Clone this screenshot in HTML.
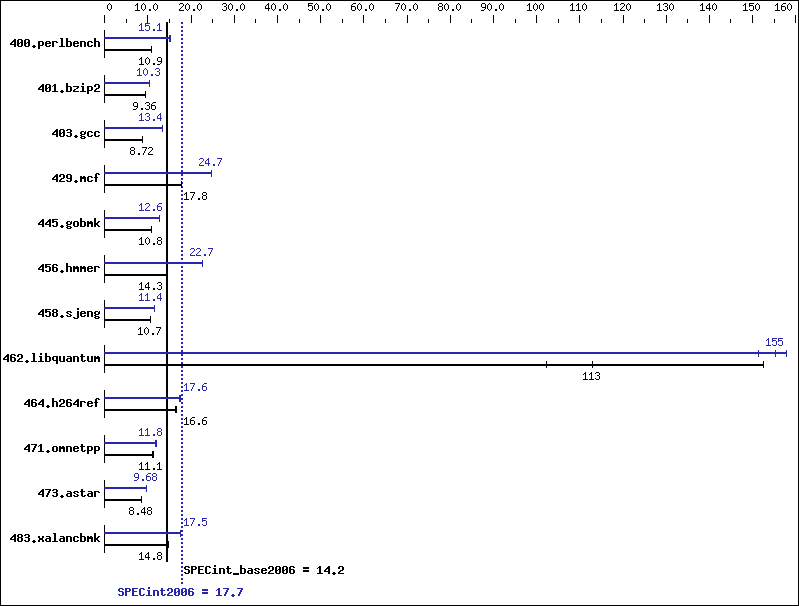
<!DOCTYPE html>
<html><head><meta charset="utf-8"><title>SPECint2006 chart</title>
<style>html,body{margin:0;padding:0;background:#fff;overflow:hidden;font-family:"Liberation Mono",monospace}svg{display:block}</style>
</head><body>
<svg width="799" height="606" viewBox="0 0 799 606" shape-rendering="crispEdges">
<defs><path id="s48" d="M2 3h1v1h-1zM1 4h1v1h-1zM3 4h1v1h-1zM0 5h1v1h-1zM4 5h1v1h-1zM0 6h1v1h-1zM4 6h1v1h-1zM0 7h1v1h-1zM4 7h1v1h-1zM0 8h1v1h-1zM4 8h1v1h-1zM1 9h1v1h-1zM3 9h1v1h-1zM2 10h1v1h-1z"/><path id="s49" d="M2 3h1v1h-1zM1 4h2v1h-2zM0 5h1v1h-1zM2 5h1v1h-1zM2 6h1v1h-1zM2 7h1v1h-1zM2 8h1v1h-1zM2 9h1v1h-1zM0 10h5v1h-5z"/><path id="s46" d="M2 9h2v1h-2zM2 10h2v1h-2z"/><path id="s50" d="M1 3h3v1h-3zM0 4h1v1h-1zM4 4h1v1h-1zM4 5h1v1h-1zM3 6h1v1h-1zM2 7h1v1h-1zM1 8h1v1h-1zM0 9h1v1h-1zM0 10h5v1h-5z"/><path id="s51" d="M1 3h3v1h-3zM0 4h1v1h-1zM4 4h1v1h-1zM4 5h1v1h-1zM2 6h2v1h-2zM4 7h1v1h-1zM4 8h1v1h-1zM0 9h1v1h-1zM4 9h1v1h-1zM1 10h3v1h-3z"/><path id="s52" d="M3 3h1v1h-1zM2 4h2v1h-2zM1 5h1v1h-1zM3 5h1v1h-1zM0 6h1v1h-1zM3 6h1v1h-1zM0 7h1v1h-1zM3 7h1v1h-1zM0 8h5v1h-5zM3 9h1v1h-1zM3 10h1v1h-1z"/><path id="s53" d="M0 3h5v1h-5zM0 4h1v1h-1zM0 5h4v1h-4zM0 6h1v1h-1zM4 6h1v1h-1zM4 7h1v1h-1zM4 8h1v1h-1zM0 9h1v1h-1zM4 9h1v1h-1zM1 10h3v1h-3z"/><path id="s54" d="M2 3h3v1h-3zM1 4h1v1h-1zM0 5h1v1h-1zM0 6h4v1h-4zM0 7h1v1h-1zM4 7h1v1h-1zM0 8h1v1h-1zM4 8h1v1h-1zM0 9h1v1h-1zM4 9h1v1h-1zM1 10h3v1h-3z"/><path id="s55" d="M0 3h5v1h-5zM4 4h1v1h-1zM3 5h1v1h-1zM3 6h1v1h-1zM2 7h1v1h-1zM2 8h1v1h-1zM1 9h1v1h-1zM1 10h1v1h-1z"/><path id="s56" d="M1 3h3v1h-3zM0 4h1v1h-1zM4 4h1v1h-1zM0 5h1v1h-1zM4 5h1v1h-1zM1 6h3v1h-3zM0 7h1v1h-1zM4 7h1v1h-1zM0 8h1v1h-1zM4 8h1v1h-1zM0 9h1v1h-1zM4 9h1v1h-1zM1 10h3v1h-3z"/><path id="s57" d="M1 3h3v1h-3zM0 4h1v1h-1zM4 4h1v1h-1zM0 5h1v1h-1zM4 5h1v1h-1zM0 6h1v1h-1zM4 6h1v1h-1zM1 7h4v1h-4zM4 8h1v1h-1zM3 9h1v1h-1zM0 10h3v1h-3z"/><path id="b52" d="M4 3h2v1h-2zM3 4h3v1h-3zM2 5h4v1h-4zM1 6h2v1h-2zM4 6h2v1h-2zM0 7h2v1h-2zM4 7h2v1h-2zM0 8h6v1h-6zM4 9h2v1h-2zM4 10h2v1h-2z"/><path id="b48" d="M1 3h4v1h-4zM0 4h2v1h-2zM4 4h2v1h-2zM0 5h2v1h-2zM4 5h2v1h-2zM0 6h2v1h-2zM3 6h3v1h-3zM0 7h3v1h-3zM4 7h2v1h-2zM0 8h2v1h-2zM4 8h2v1h-2zM0 9h2v1h-2zM4 9h2v1h-2zM1 10h4v1h-4z"/><path id="b46" d="M2 9h2v1h-2zM1 10h4v1h-4zM2 11h2v1h-2z"/><path id="b112" d="M0 5h5v1h-5zM0 6h2v1h-2zM4 6h2v1h-2zM0 7h2v1h-2zM4 7h2v1h-2zM0 8h2v1h-2zM4 8h2v1h-2zM0 9h5v1h-5zM0 10h2v1h-2zM0 11h2v1h-2zM0 12h2v1h-2z"/><path id="b101" d="M1 5h4v1h-4zM0 6h2v1h-2zM4 6h2v1h-2zM0 7h6v1h-6zM0 8h2v1h-2zM0 9h2v1h-2zM4 9h2v1h-2zM1 10h4v1h-4z"/><path id="b114" d="M0 5h5v1h-5zM0 6h2v1h-2zM4 6h2v1h-2zM0 7h2v1h-2zM0 8h2v1h-2zM0 9h2v1h-2zM0 10h2v1h-2z"/><path id="b108" d="M1 2h3v1h-3zM2 3h2v1h-2zM2 4h2v1h-2zM2 5h2v1h-2zM2 6h2v1h-2zM2 7h2v1h-2zM2 8h2v1h-2zM2 9h2v1h-2zM0 10h6v1h-6z"/><path id="b98" d="M0 2h2v1h-2zM0 3h2v1h-2zM0 4h2v1h-2zM0 5h5v1h-5zM0 6h2v1h-2zM4 6h2v1h-2zM0 7h2v1h-2zM4 7h2v1h-2zM0 8h2v1h-2zM4 8h2v1h-2zM0 9h2v1h-2zM4 9h2v1h-2zM0 10h5v1h-5z"/><path id="b110" d="M0 5h5v1h-5zM0 6h2v1h-2zM4 6h2v1h-2zM0 7h2v1h-2zM4 7h2v1h-2zM0 8h2v1h-2zM4 8h2v1h-2zM0 9h2v1h-2zM4 9h2v1h-2zM0 10h2v1h-2zM4 10h2v1h-2z"/><path id="b99" d="M1 5h4v1h-4zM0 6h2v1h-2zM4 6h2v1h-2zM0 7h2v1h-2zM0 8h2v1h-2zM0 9h2v1h-2zM4 9h2v1h-2zM1 10h4v1h-4z"/><path id="b104" d="M0 2h2v1h-2zM0 3h2v1h-2zM0 4h2v1h-2zM0 5h5v1h-5zM0 6h2v1h-2zM4 6h2v1h-2zM0 7h2v1h-2zM4 7h2v1h-2zM0 8h2v1h-2zM4 8h2v1h-2zM0 9h2v1h-2zM4 9h2v1h-2zM0 10h2v1h-2zM4 10h2v1h-2z"/><path id="b49" d="M2 3h2v1h-2zM1 4h3v1h-3zM0 5h1v1h-1zM2 5h2v1h-2zM2 6h2v1h-2zM2 7h2v1h-2zM2 8h2v1h-2zM2 9h2v1h-2zM0 10h6v1h-6z"/><path id="b122" d="M0 5h6v1h-6zM4 6h2v1h-2zM3 7h2v1h-2zM1 8h2v1h-2zM0 9h2v1h-2zM0 10h6v1h-6z"/><path id="b105" d="M2 2h2v1h-2zM2 3h2v1h-2zM1 5h3v1h-3zM2 6h2v1h-2zM2 7h2v1h-2zM2 8h2v1h-2zM2 9h2v1h-2zM0 10h6v1h-6z"/><path id="b50" d="M1 3h4v1h-4zM0 4h2v1h-2zM4 4h2v1h-2zM0 5h2v1h-2zM4 5h2v1h-2zM4 6h2v1h-2zM2 7h3v1h-3zM1 8h2v1h-2zM0 9h2v1h-2zM0 10h6v1h-6z"/><path id="b51" d="M1 3h4v1h-4zM0 4h2v1h-2zM4 4h2v1h-2zM4 5h2v1h-2zM1 6h4v1h-4zM4 7h2v1h-2zM4 8h2v1h-2zM0 9h2v1h-2zM4 9h2v1h-2zM1 10h4v1h-4z"/><path id="b103" d="M1 5h3v1h-3zM5 5h1v1h-1zM0 6h2v1h-2zM4 6h2v1h-2zM0 7h2v1h-2zM4 7h2v1h-2zM1 8h4v1h-4zM0 9h2v1h-2zM1 10h4v1h-4zM0 11h2v1h-2zM4 11h2v1h-2zM1 12h4v1h-4z"/><path id="b57" d="M1 3h4v1h-4zM0 4h2v1h-2zM4 4h2v1h-2zM0 5h2v1h-2zM4 5h2v1h-2zM0 6h2v1h-2zM4 6h2v1h-2zM1 7h5v1h-5zM4 8h2v1h-2zM0 9h2v1h-2zM4 9h2v1h-2zM1 10h4v1h-4z"/><path id="b109" d="M0 5h2v1h-2zM3 5h2v1h-2zM0 6h6v1h-6zM0 7h6v1h-6zM0 8h2v1h-2zM4 8h2v1h-2zM0 9h2v1h-2zM4 9h2v1h-2zM0 10h2v1h-2zM4 10h2v1h-2z"/><path id="b102" d="M2 2h3v1h-3zM1 3h2v1h-2zM4 3h2v1h-2zM1 4h2v1h-2zM1 5h2v1h-2zM0 6h4v1h-4zM1 7h2v1h-2zM1 8h2v1h-2zM1 9h2v1h-2zM1 10h2v1h-2z"/><path id="b53" d="M0 3h6v1h-6zM0 4h2v1h-2zM0 5h5v1h-5zM0 6h2v1h-2zM4 6h2v1h-2zM4 7h2v1h-2zM4 8h2v1h-2zM0 9h2v1h-2zM4 9h2v1h-2zM1 10h4v1h-4z"/><path id="b111" d="M1 5h4v1h-4zM0 6h2v1h-2zM4 6h2v1h-2zM0 7h2v1h-2zM4 7h2v1h-2zM0 8h2v1h-2zM4 8h2v1h-2zM0 9h2v1h-2zM4 9h2v1h-2zM1 10h4v1h-4z"/><path id="b107" d="M0 2h2v1h-2zM0 3h2v1h-2zM0 4h2v1h-2zM0 5h2v1h-2zM4 5h2v1h-2zM0 6h2v1h-2zM3 6h2v1h-2zM0 7h4v1h-4zM0 8h4v1h-4zM0 9h2v1h-2zM3 9h2v1h-2zM0 10h2v1h-2zM4 10h2v1h-2z"/><path id="b54" d="M1 3h4v1h-4zM0 4h2v1h-2zM4 4h2v1h-2zM0 5h2v1h-2zM0 6h5v1h-5zM0 7h2v1h-2zM4 7h2v1h-2zM0 8h2v1h-2zM4 8h2v1h-2zM0 9h2v1h-2zM4 9h2v1h-2zM1 10h4v1h-4z"/><path id="b56" d="M1 3h4v1h-4zM0 4h2v1h-2zM4 4h2v1h-2zM0 5h2v1h-2zM4 5h2v1h-2zM1 6h4v1h-4zM0 7h2v1h-2zM4 7h2v1h-2zM0 8h2v1h-2zM4 8h2v1h-2zM0 9h2v1h-2zM4 9h2v1h-2zM1 10h4v1h-4z"/><path id="b115" d="M1 5h4v1h-4zM0 6h2v1h-2zM4 6h2v1h-2zM1 7h2v1h-2zM3 8h2v1h-2zM0 9h2v1h-2zM4 9h2v1h-2zM1 10h4v1h-4z"/><path id="b106" d="M4 2h2v1h-2zM4 3h2v1h-2zM4 5h2v1h-2zM4 6h2v1h-2zM4 7h2v1h-2zM4 8h2v1h-2zM4 9h2v1h-2zM4 10h2v1h-2zM0 11h2v1h-2zM4 11h2v1h-2zM1 12h4v1h-4z"/><path id="b113" d="M1 5h5v1h-5zM0 6h2v1h-2zM4 6h2v1h-2zM0 7h2v1h-2zM4 7h2v1h-2zM0 8h2v1h-2zM4 8h2v1h-2zM1 9h5v1h-5zM4 10h2v1h-2zM4 11h2v1h-2zM4 12h2v1h-2z"/><path id="b117" d="M0 5h2v1h-2zM4 5h2v1h-2zM0 6h2v1h-2zM4 6h2v1h-2zM0 7h2v1h-2zM4 7h2v1h-2zM0 8h2v1h-2zM4 8h2v1h-2zM0 9h2v1h-2zM4 9h2v1h-2zM1 10h5v1h-5z"/><path id="b97" d="M1 5h4v1h-4zM4 6h2v1h-2zM1 7h5v1h-5zM0 8h2v1h-2zM4 8h2v1h-2zM0 9h2v1h-2zM4 9h2v1h-2zM1 10h5v1h-5z"/><path id="b116" d="M1 3h2v1h-2zM1 4h2v1h-2zM0 5h5v1h-5zM1 6h2v1h-2zM1 7h2v1h-2zM1 8h2v1h-2zM1 9h2v1h-2zM4 9h2v1h-2zM2 10h3v1h-3z"/><path id="b55" d="M0 3h6v1h-6zM4 4h2v1h-2zM3 5h2v1h-2zM3 6h2v1h-2zM2 7h2v1h-2zM2 8h2v1h-2zM1 9h2v1h-2zM1 10h2v1h-2z"/><path id="b120" d="M0 5h2v1h-2zM4 5h2v1h-2zM0 6h2v1h-2zM4 6h2v1h-2zM1 7h4v1h-4zM1 8h4v1h-4zM0 9h2v1h-2zM4 9h2v1h-2zM0 10h2v1h-2zM4 10h2v1h-2z"/><path id="b83" d="M1 3h4v1h-4zM0 4h2v1h-2zM4 4h2v1h-2zM0 5h2v1h-2zM1 6h4v1h-4zM4 7h2v1h-2zM4 8h2v1h-2zM0 9h2v1h-2zM4 9h2v1h-2zM1 10h4v1h-4z"/><path id="b80" d="M0 3h5v1h-5zM0 4h2v1h-2zM4 4h2v1h-2zM0 5h2v1h-2zM4 5h2v1h-2zM0 6h5v1h-5zM0 7h2v1h-2zM0 8h2v1h-2zM0 9h2v1h-2zM0 10h2v1h-2z"/><path id="b69" d="M0 3h6v1h-6zM0 4h2v1h-2zM0 5h2v1h-2zM0 6h5v1h-5zM0 7h2v1h-2zM0 8h2v1h-2zM0 9h2v1h-2zM0 10h6v1h-6z"/><path id="b67" d="M1 3h4v1h-4zM0 4h2v1h-2zM4 4h2v1h-2zM0 5h2v1h-2zM0 6h2v1h-2zM0 7h2v1h-2zM0 8h2v1h-2zM0 9h2v1h-2zM4 9h2v1h-2zM1 10h4v1h-4z"/><path id="b95" d="M0 10h6v1h-6zM0 11h6v1h-6z"/><path id="b61" d="M0 4h6v1h-6zM0 5h6v1h-6zM0 7h6v1h-6zM0 8h6v1h-6z"/></defs>
<rect x="0" y="0" width="799" height="606" fill="#fff"/>
<rect x="0" y="0" width="799" height="1" fill="#000"/><rect x="0" y="605" width="799" height="1" fill="#000"/><rect x="0" y="0" width="1" height="606" fill="#000"/><rect x="798" y="0" width="1" height="606" fill="#000"/><rect x="104" y="15" width="1" height="8" fill="#000"/><g fill="#000"><use href="#s48" x="107" y="0"/></g><rect x="126" y="19" width="1" height="4" fill="#000"/><rect x="147" y="15" width="1" height="8" fill="#000"/><g fill="#000"><use href="#s49" x="135" y="0"/><use href="#s48" x="141" y="0"/><use href="#s46" x="147" y="0"/><use href="#s48" x="153" y="0"/></g><rect x="169" y="19" width="1" height="4" fill="#000"/><rect x="191" y="15" width="1" height="8" fill="#000"/><g fill="#000"><use href="#s50" x="179" y="0"/><use href="#s48" x="185" y="0"/><use href="#s46" x="191" y="0"/><use href="#s48" x="197" y="0"/></g><rect x="212" y="19" width="1" height="4" fill="#000"/><rect x="234" y="15" width="1" height="8" fill="#000"/><g fill="#000"><use href="#s51" x="222" y="0"/><use href="#s48" x="228" y="0"/><use href="#s46" x="234" y="0"/><use href="#s48" x="240" y="0"/></g><rect x="255" y="19" width="1" height="4" fill="#000"/><rect x="277" y="15" width="1" height="8" fill="#000"/><g fill="#000"><use href="#s52" x="265" y="0"/><use href="#s48" x="271" y="0"/><use href="#s46" x="277" y="0"/><use href="#s48" x="283" y="0"/></g><rect x="299" y="19" width="1" height="4" fill="#000"/><rect x="320" y="15" width="1" height="8" fill="#000"/><g fill="#000"><use href="#s53" x="308" y="0"/><use href="#s48" x="314" y="0"/><use href="#s46" x="320" y="0"/><use href="#s48" x="326" y="0"/></g><rect x="342" y="19" width="1" height="4" fill="#000"/><rect x="363" y="15" width="1" height="8" fill="#000"/><g fill="#000"><use href="#s54" x="351" y="0"/><use href="#s48" x="357" y="0"/><use href="#s46" x="363" y="0"/><use href="#s48" x="369" y="0"/></g><rect x="385" y="19" width="1" height="4" fill="#000"/><rect x="407" y="15" width="1" height="8" fill="#000"/><g fill="#000"><use href="#s55" x="395" y="0"/><use href="#s48" x="401" y="0"/><use href="#s46" x="407" y="0"/><use href="#s48" x="413" y="0"/></g><rect x="428" y="19" width="1" height="4" fill="#000"/><rect x="450" y="15" width="1" height="8" fill="#000"/><g fill="#000"><use href="#s56" x="438" y="0"/><use href="#s48" x="444" y="0"/><use href="#s46" x="450" y="0"/><use href="#s48" x="456" y="0"/></g><rect x="471" y="19" width="1" height="4" fill="#000"/><rect x="493" y="15" width="1" height="8" fill="#000"/><g fill="#000"><use href="#s57" x="481" y="0"/><use href="#s48" x="487" y="0"/><use href="#s46" x="493" y="0"/><use href="#s48" x="499" y="0"/></g><rect x="515" y="19" width="1" height="4" fill="#000"/><rect x="536" y="15" width="1" height="8" fill="#000"/><g fill="#000"><use href="#s49" x="527" y="0"/><use href="#s48" x="533" y="0"/><use href="#s48" x="539" y="0"/></g><rect x="558" y="19" width="1" height="4" fill="#000"/><rect x="579" y="15" width="1" height="8" fill="#000"/><g fill="#000"><use href="#s49" x="570" y="0"/><use href="#s49" x="576" y="0"/><use href="#s48" x="582" y="0"/></g><rect x="601" y="19" width="1" height="4" fill="#000"/><rect x="623" y="15" width="1" height="8" fill="#000"/><g fill="#000"><use href="#s49" x="614" y="0"/><use href="#s50" x="620" y="0"/><use href="#s48" x="626" y="0"/></g><rect x="644" y="19" width="1" height="4" fill="#000"/><rect x="666" y="15" width="1" height="8" fill="#000"/><g fill="#000"><use href="#s49" x="657" y="0"/><use href="#s51" x="663" y="0"/><use href="#s48" x="669" y="0"/></g><rect x="687" y="19" width="1" height="4" fill="#000"/><rect x="709" y="15" width="1" height="8" fill="#000"/><g fill="#000"><use href="#s49" x="700" y="0"/><use href="#s52" x="706" y="0"/><use href="#s48" x="712" y="0"/></g><rect x="730" y="19" width="1" height="4" fill="#000"/><rect x="752" y="15" width="1" height="8" fill="#000"/><g fill="#000"><use href="#s49" x="743" y="0"/><use href="#s53" x="749" y="0"/><use href="#s48" x="755" y="0"/></g><rect x="774" y="19" width="1" height="4" fill="#000"/><rect x="795" y="15" width="1" height="8" fill="#000"/><g fill="#000"><use href="#s49" x="775" y="0"/><use href="#s54" x="781" y="0"/><use href="#s48" x="787" y="0"/></g><g fill="#000"><use href="#b52" x="10" y="36"/><use href="#b48" x="17" y="36"/><use href="#b48" x="24" y="36"/><use href="#b46" x="31" y="36"/><use href="#b112" x="38" y="36"/><use href="#b101" x="45" y="36"/><use href="#b114" x="52" y="36"/><use href="#b108" x="59" y="36"/><use href="#b98" x="66" y="36"/><use href="#b101" x="73" y="36"/><use href="#b110" x="80" y="36"/><use href="#b99" x="87" y="36"/><use href="#b104" x="94" y="36"/></g><g fill="#000"><use href="#b52" x="38" y="81"/><use href="#b48" x="45" y="81"/><use href="#b49" x="52" y="81"/><use href="#b46" x="59" y="81"/><use href="#b98" x="66" y="81"/><use href="#b122" x="73" y="81"/><use href="#b105" x="80" y="81"/><use href="#b112" x="87" y="81"/><use href="#b50" x="94" y="81"/></g><g fill="#000"><use href="#b52" x="52" y="126"/><use href="#b48" x="59" y="126"/><use href="#b51" x="66" y="126"/><use href="#b46" x="73" y="126"/><use href="#b103" x="80" y="126"/><use href="#b99" x="87" y="126"/><use href="#b99" x="94" y="126"/></g><g fill="#000"><use href="#b52" x="52" y="171"/><use href="#b50" x="59" y="171"/><use href="#b57" x="66" y="171"/><use href="#b46" x="73" y="171"/><use href="#b109" x="80" y="171"/><use href="#b99" x="87" y="171"/><use href="#b102" x="94" y="171"/></g><g fill="#000"><use href="#b52" x="38" y="216"/><use href="#b52" x="45" y="216"/><use href="#b53" x="52" y="216"/><use href="#b46" x="59" y="216"/><use href="#b103" x="66" y="216"/><use href="#b111" x="73" y="216"/><use href="#b98" x="80" y="216"/><use href="#b109" x="87" y="216"/><use href="#b107" x="94" y="216"/></g><g fill="#000"><use href="#b52" x="38" y="261"/><use href="#b53" x="45" y="261"/><use href="#b54" x="52" y="261"/><use href="#b46" x="59" y="261"/><use href="#b104" x="66" y="261"/><use href="#b109" x="73" y="261"/><use href="#b109" x="80" y="261"/><use href="#b101" x="87" y="261"/><use href="#b114" x="94" y="261"/></g><g fill="#000"><use href="#b52" x="38" y="306"/><use href="#b53" x="45" y="306"/><use href="#b56" x="52" y="306"/><use href="#b46" x="59" y="306"/><use href="#b115" x="66" y="306"/><use href="#b106" x="73" y="306"/><use href="#b101" x="80" y="306"/><use href="#b110" x="87" y="306"/><use href="#b103" x="94" y="306"/></g><g fill="#000"><use href="#b52" x="3" y="351"/><use href="#b54" x="10" y="351"/><use href="#b50" x="17" y="351"/><use href="#b46" x="24" y="351"/><use href="#b108" x="31" y="351"/><use href="#b105" x="38" y="351"/><use href="#b98" x="45" y="351"/><use href="#b113" x="52" y="351"/><use href="#b117" x="59" y="351"/><use href="#b97" x="66" y="351"/><use href="#b110" x="73" y="351"/><use href="#b116" x="80" y="351"/><use href="#b117" x="87" y="351"/><use href="#b109" x="94" y="351"/></g><g fill="#000"><use href="#b52" x="24" y="396"/><use href="#b54" x="31" y="396"/><use href="#b52" x="38" y="396"/><use href="#b46" x="45" y="396"/><use href="#b104" x="52" y="396"/><use href="#b50" x="59" y="396"/><use href="#b54" x="66" y="396"/><use href="#b52" x="73" y="396"/><use href="#b114" x="80" y="396"/><use href="#b101" x="87" y="396"/><use href="#b102" x="94" y="396"/></g><g fill="#000"><use href="#b52" x="24" y="441"/><use href="#b55" x="31" y="441"/><use href="#b49" x="38" y="441"/><use href="#b46" x="45" y="441"/><use href="#b111" x="52" y="441"/><use href="#b109" x="59" y="441"/><use href="#b110" x="66" y="441"/><use href="#b101" x="73" y="441"/><use href="#b116" x="80" y="441"/><use href="#b112" x="87" y="441"/><use href="#b112" x="94" y="441"/></g><g fill="#000"><use href="#b52" x="38" y="486"/><use href="#b55" x="45" y="486"/><use href="#b51" x="52" y="486"/><use href="#b46" x="59" y="486"/><use href="#b97" x="66" y="486"/><use href="#b115" x="73" y="486"/><use href="#b116" x="80" y="486"/><use href="#b97" x="87" y="486"/><use href="#b114" x="94" y="486"/></g><g fill="#000"><use href="#b52" x="10" y="531"/><use href="#b56" x="17" y="531"/><use href="#b51" x="24" y="531"/><use href="#b46" x="31" y="531"/><use href="#b120" x="38" y="531"/><use href="#b97" x="45" y="531"/><use href="#b108" x="52" y="531"/><use href="#b97" x="59" y="531"/><use href="#b110" x="66" y="531"/><use href="#b99" x="73" y="531"/><use href="#b98" x="80" y="531"/><use href="#b109" x="87" y="531"/><use href="#b107" x="94" y="531"/></g><rect x="166" y="22" width="2" height="540" fill="#000"/><path fill="#2626ae" d="M181 22h2v2h-2zM181 26h2v2h-2zM181 30h2v2h-2zM181 34h2v2h-2zM181 38h2v2h-2zM181 42h2v2h-2zM181 46h2v2h-2zM181 50h2v2h-2zM181 54h2v2h-2zM181 58h2v2h-2zM181 62h2v2h-2zM181 66h2v2h-2zM181 70h2v2h-2zM181 74h2v2h-2zM181 78h2v2h-2zM181 82h2v2h-2zM181 86h2v2h-2zM181 90h2v2h-2zM181 94h2v2h-2zM181 98h2v2h-2zM181 102h2v2h-2zM181 106h2v2h-2zM181 110h2v2h-2zM181 114h2v2h-2zM181 118h2v2h-2zM181 122h2v2h-2zM181 126h2v2h-2zM181 130h2v2h-2zM181 134h2v2h-2zM181 138h2v2h-2zM181 142h2v2h-2zM181 146h2v2h-2zM181 150h2v2h-2zM181 154h2v2h-2zM181 158h2v2h-2zM181 162h2v2h-2zM181 166h2v2h-2zM181 170h2v2h-2zM181 174h2v2h-2zM181 178h2v2h-2zM181 182h2v2h-2zM181 186h2v2h-2zM181 190h2v2h-2zM181 194h2v2h-2zM181 198h2v2h-2zM181 202h2v2h-2zM181 206h2v2h-2zM181 210h2v2h-2zM181 214h2v2h-2zM181 218h2v2h-2zM181 222h2v2h-2zM181 226h2v2h-2zM181 230h2v2h-2zM181 234h2v2h-2zM181 238h2v2h-2zM181 242h2v2h-2zM181 246h2v2h-2zM181 250h2v2h-2zM181 254h2v2h-2zM181 258h2v2h-2zM181 262h2v2h-2zM181 266h2v2h-2zM181 270h2v2h-2zM181 274h2v2h-2zM181 278h2v2h-2zM181 282h2v2h-2zM181 286h2v2h-2zM181 290h2v2h-2zM181 294h2v2h-2zM181 298h2v2h-2zM181 302h2v2h-2zM181 306h2v2h-2zM181 310h2v2h-2zM181 314h2v2h-2zM181 318h2v2h-2zM181 322h2v2h-2zM181 326h2v2h-2zM181 330h2v2h-2zM181 334h2v2h-2zM181 338h2v2h-2zM181 342h2v2h-2zM181 346h2v2h-2zM181 350h2v2h-2zM181 354h2v2h-2zM181 358h2v2h-2zM181 362h2v2h-2zM181 366h2v2h-2zM181 370h2v2h-2zM181 374h2v2h-2zM181 378h2v2h-2zM181 382h2v2h-2zM181 386h2v2h-2zM181 390h2v2h-2zM181 394h2v2h-2zM181 398h2v2h-2zM181 402h2v2h-2zM181 406h2v2h-2zM181 410h2v2h-2zM181 414h2v2h-2zM181 418h2v2h-2zM181 422h2v2h-2zM181 426h2v2h-2zM181 430h2v2h-2zM181 434h2v2h-2zM181 438h2v2h-2zM181 442h2v2h-2zM181 446h2v2h-2zM181 450h2v2h-2zM181 454h2v2h-2zM181 458h2v2h-2zM181 462h2v2h-2zM181 466h2v2h-2zM181 470h2v2h-2zM181 474h2v2h-2zM181 478h2v2h-2zM181 482h2v2h-2zM181 486h2v2h-2zM181 490h2v2h-2zM181 494h2v2h-2zM181 498h2v2h-2zM181 502h2v2h-2zM181 506h2v2h-2zM181 510h2v2h-2zM181 514h2v2h-2zM181 518h2v2h-2zM181 522h2v2h-2zM181 526h2v2h-2zM181 530h2v2h-2zM181 534h2v2h-2zM181 538h2v2h-2zM181 542h2v2h-2zM181 546h2v2h-2zM181 550h2v2h-2zM181 554h2v2h-2zM181 558h2v2h-2zM181 562h2v2h-2zM181 566h2v2h-2zM181 570h2v2h-2zM181 574h2v2h-2zM181 578h2v2h-2zM181 582h2v2h-2z"/><rect x="104" y="30" width="1" height="28" fill="#000"/><rect x="104" y="37" width="67" height="2" fill="#2626ae"/><rect x="169" y="35" width="1" height="7" fill="#2626ae"/><rect x="170" y="35" width="1" height="7" fill="#2626ae"/><g fill="#2626ae"><use href="#s49" x="139" y="20"/><use href="#s53" x="145" y="20"/><use href="#s46" x="151" y="20"/><use href="#s49" x="157" y="20"/></g><rect x="104" y="49" width="48" height="2" fill="#000"/><rect x="151" y="46" width="1" height="7" fill="#000"/><g fill="#000"><use href="#s49" x="139" y="54"/><use href="#s48" x="145" y="54"/><use href="#s46" x="151" y="54"/><use href="#s57" x="157" y="54"/></g><rect x="104" y="75" width="1" height="28" fill="#000"/><rect x="104" y="82" width="46" height="2" fill="#2626ae"/><rect x="149" y="80" width="1" height="7" fill="#2626ae"/><g fill="#2626ae"><use href="#s49" x="137" y="65"/><use href="#s48" x="143" y="65"/><use href="#s46" x="149" y="65"/><use href="#s51" x="155" y="65"/></g><rect x="104" y="94" width="42" height="2" fill="#000"/><rect x="145" y="91" width="1" height="7" fill="#000"/><g fill="#000"><use href="#s57" x="133" y="99"/><use href="#s46" x="139" y="99"/><use href="#s51" x="145" y="99"/><use href="#s54" x="151" y="99"/></g><rect x="104" y="120" width="1" height="28" fill="#000"/><rect x="104" y="127" width="59" height="2" fill="#2626ae"/><rect x="162" y="125" width="1" height="7" fill="#2626ae"/><g fill="#2626ae"><use href="#s49" x="139" y="110"/><use href="#s51" x="145" y="110"/><use href="#s46" x="151" y="110"/><use href="#s52" x="157" y="110"/></g><rect x="104" y="139" width="39" height="2" fill="#000"/><rect x="142" y="136" width="1" height="7" fill="#000"/><g fill="#000"><use href="#s56" x="130" y="144"/><use href="#s46" x="136" y="144"/><use href="#s55" x="142" y="144"/><use href="#s50" x="148" y="144"/></g><rect x="104" y="165" width="1" height="28" fill="#000"/><rect x="104" y="172" width="108" height="2" fill="#2626ae"/><rect x="211" y="170" width="1" height="7" fill="#2626ae"/><g fill="#2626ae"><use href="#s50" x="199" y="155"/><use href="#s52" x="205" y="155"/><use href="#s46" x="211" y="155"/><use href="#s55" x="217" y="155"/></g><rect x="104" y="184" width="78" height="2" fill="#000"/><rect x="181" y="181" width="1" height="7" fill="#000"/><g fill="#000"><use href="#s49" x="184" y="189"/><use href="#s55" x="190" y="189"/><use href="#s46" x="196" y="189"/><use href="#s56" x="202" y="189"/></g><rect x="104" y="210" width="1" height="28" fill="#000"/><rect x="104" y="217" width="56" height="2" fill="#2626ae"/><rect x="159" y="215" width="1" height="7" fill="#2626ae"/><g fill="#2626ae"><use href="#s49" x="139" y="200"/><use href="#s50" x="145" y="200"/><use href="#s46" x="151" y="200"/><use href="#s54" x="157" y="200"/></g><rect x="104" y="229" width="48" height="2" fill="#000"/><rect x="151" y="226" width="1" height="7" fill="#000"/><g fill="#000"><use href="#s49" x="139" y="234"/><use href="#s48" x="145" y="234"/><use href="#s46" x="151" y="234"/><use href="#s56" x="157" y="234"/></g><rect x="104" y="255" width="1" height="28" fill="#000"/><rect x="104" y="262" width="99" height="2" fill="#2626ae"/><rect x="202" y="260" width="1" height="7" fill="#2626ae"/><g fill="#2626ae"><use href="#s50" x="190" y="245"/><use href="#s50" x="196" y="245"/><use href="#s46" x="202" y="245"/><use href="#s55" x="208" y="245"/></g><rect x="104" y="274" width="63" height="2" fill="#000"/><rect x="166" y="271" width="1" height="7" fill="#000"/><g fill="#000"><use href="#s49" x="139" y="279"/><use href="#s52" x="145" y="279"/><use href="#s46" x="151" y="279"/><use href="#s51" x="157" y="279"/></g><rect x="104" y="300" width="1" height="28" fill="#000"/><rect x="104" y="307" width="51" height="2" fill="#2626ae"/><rect x="154" y="305" width="1" height="7" fill="#2626ae"/><g fill="#2626ae"><use href="#s49" x="139" y="290"/><use href="#s49" x="145" y="290"/><use href="#s46" x="151" y="290"/><use href="#s52" x="157" y="290"/></g><rect x="104" y="319" width="47" height="2" fill="#000"/><rect x="150" y="316" width="1" height="7" fill="#000"/><g fill="#000"><use href="#s49" x="138" y="324"/><use href="#s48" x="144" y="324"/><use href="#s46" x="150" y="324"/><use href="#s55" x="156" y="324"/></g><rect x="104" y="345" width="1" height="28" fill="#000"/><rect x="104" y="352" width="683" height="2" fill="#2626ae"/><rect x="758" y="350" width="1" height="7" fill="#2626ae"/><rect x="775" y="350" width="1" height="7" fill="#2626ae"/><rect x="786" y="350" width="1" height="7" fill="#2626ae"/><g fill="#2626ae"><use href="#s49" x="766" y="335"/><use href="#s53" x="772" y="335"/><use href="#s53" x="778" y="335"/></g><rect x="104" y="364" width="660" height="2" fill="#000"/><rect x="546" y="361" width="1" height="7" fill="#000"/><rect x="592" y="361" width="1" height="7" fill="#000"/><rect x="763" y="361" width="1" height="7" fill="#000"/><g fill="#000"><use href="#s49" x="583" y="369"/><use href="#s49" x="589" y="369"/><use href="#s51" x="595" y="369"/></g><rect x="104" y="390" width="1" height="28" fill="#000"/><rect x="104" y="397" width="77" height="2" fill="#2626ae"/><rect x="179" y="395" width="1" height="7" fill="#2626ae"/><rect x="180" y="395" width="1" height="7" fill="#2626ae"/><g fill="#2626ae"><use href="#s49" x="184" y="380"/><use href="#s55" x="190" y="380"/><use href="#s46" x="196" y="380"/><use href="#s54" x="202" y="380"/></g><rect x="104" y="409" width="73" height="2" fill="#000"/><rect x="175" y="406" width="1" height="7" fill="#000"/><rect x="176" y="406" width="1" height="7" fill="#000"/><g fill="#000"><use href="#s49" x="184" y="414"/><use href="#s54" x="190" y="414"/><use href="#s46" x="196" y="414"/><use href="#s54" x="202" y="414"/></g><rect x="104" y="435" width="1" height="28" fill="#000"/><rect x="104" y="442" width="53" height="2" fill="#2626ae"/><rect x="155" y="440" width="1" height="7" fill="#2626ae"/><rect x="156" y="440" width="1" height="7" fill="#2626ae"/><g fill="#2626ae"><use href="#s49" x="139" y="425"/><use href="#s49" x="145" y="425"/><use href="#s46" x="151" y="425"/><use href="#s56" x="157" y="425"/></g><rect x="104" y="454" width="50" height="2" fill="#000"/><rect x="152" y="451" width="1" height="7" fill="#000"/><rect x="153" y="451" width="1" height="7" fill="#000"/><g fill="#000"><use href="#s49" x="139" y="459"/><use href="#s49" x="145" y="459"/><use href="#s46" x="151" y="459"/><use href="#s49" x="157" y="459"/></g><rect x="104" y="480" width="1" height="28" fill="#000"/><rect x="104" y="487" width="43" height="2" fill="#2626ae"/><rect x="146" y="485" width="1" height="7" fill="#2626ae"/><g fill="#2626ae"><use href="#s57" x="134" y="470"/><use href="#s46" x="140" y="470"/><use href="#s54" x="146" y="470"/><use href="#s56" x="152" y="470"/></g><rect x="104" y="499" width="38" height="2" fill="#000"/><rect x="141" y="496" width="1" height="7" fill="#000"/><g fill="#000"><use href="#s56" x="129" y="504"/><use href="#s46" x="135" y="504"/><use href="#s52" x="141" y="504"/><use href="#s56" x="147" y="504"/></g><rect x="104" y="525" width="1" height="28" fill="#000"/><rect x="104" y="532" width="77" height="2" fill="#2626ae"/><rect x="180" y="530" width="1" height="7" fill="#2626ae"/><g fill="#2626ae"><use href="#s49" x="184" y="515"/><use href="#s55" x="190" y="515"/><use href="#s46" x="196" y="515"/><use href="#s53" x="202" y="515"/></g><rect x="104" y="544" width="65" height="2" fill="#000"/><rect x="168" y="541" width="1" height="7" fill="#000"/><g fill="#000"><use href="#s49" x="139" y="549"/><use href="#s52" x="145" y="549"/><use href="#s46" x="151" y="549"/><use href="#s56" x="157" y="549"/></g><g fill="#000"><use href="#b83" x="184" y="563"/><use href="#b80" x="191" y="563"/><use href="#b69" x="198" y="563"/><use href="#b67" x="205" y="563"/><use href="#b105" x="212" y="563"/><use href="#b110" x="219" y="563"/><use href="#b116" x="226" y="563"/><use href="#b95" x="233" y="563"/><use href="#b98" x="240" y="563"/><use href="#b97" x="247" y="563"/><use href="#b115" x="254" y="563"/><use href="#b101" x="261" y="563"/><use href="#b50" x="268" y="563"/><use href="#b48" x="275" y="563"/><use href="#b48" x="282" y="563"/><use href="#b54" x="289" y="563"/><use href="#b61" x="303" y="563"/><use href="#b49" x="317" y="563"/><use href="#b52" x="324" y="563"/><use href="#b46" x="331" y="563"/><use href="#b50" x="338" y="563"/></g><g fill="#2626ae"><use href="#b83" x="118" y="585"/><use href="#b80" x="125" y="585"/><use href="#b69" x="132" y="585"/><use href="#b67" x="139" y="585"/><use href="#b105" x="146" y="585"/><use href="#b110" x="153" y="585"/><use href="#b116" x="160" y="585"/><use href="#b50" x="167" y="585"/><use href="#b48" x="174" y="585"/><use href="#b48" x="181" y="585"/><use href="#b54" x="188" y="585"/><use href="#b61" x="202" y="585"/><use href="#b49" x="216" y="585"/><use href="#b55" x="223" y="585"/><use href="#b46" x="230" y="585"/><use href="#b55" x="237" y="585"/></g>
</svg>
</body></html>
